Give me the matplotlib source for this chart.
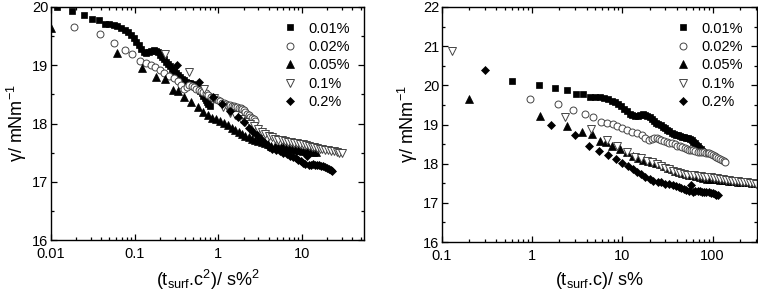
import matplotlib
matplotlib.use("Agg")
import matplotlib.pyplot as plt
from matplotlib.ticker import LogLocator, FuncFormatter, MultipleLocator, NullFormatter
import numpy as np

plt.rcParams['font.family'] = ['Liberation Sans', 'DejaVu Sans']
plt.rcParams['mathtext.fontset'] = 'custom'
plt.rcParams['mathtext.rm'] = 'Liberation Sans'
plt.rcParams['mathtext.it'] = 'Liberation Sans:italic'
plt.rcParams['mathtext.default'] = 'regular'

# Concentrations (%) and legend labels
conc = [0.01, 0.02, 0.05, 0.1, 0.2]
labels = ["0.01%", "0.02%", "0.05%", "0.1%", "0.2%"]

# t_surf*c (s%) and surface tension (mN/m) for each concentration
tc_001 = [0.60, 1.18, 1.80, 2.45, 3.08, 3.70, 4.40, 5.0, 5.6, 6.2, 6.9, 7.6, 8.3, 9.0, 9.7,
          10.4, 11.2, 12.0, 12.9, 13.8, 14.8, 15.8, 16.8, 17.8, 18.9, 20.0, 21.2, 22.5, 23.8,
          25.0, 26.5, 28.0, 29.5, 31.0, 33.0, 35.0, 37.0, 39.0, 41.0, 43.5, 46.0, 48.5, 51.0,
          53.5, 56.0, 58.5, 61.0, 63.5, 66.0, 68.5, 71.0, 73.5, 76.0, 78.5]
g_001 = [20.11, 20.00, 19.93, 19.87, 19.79, 19.77, 19.71, 19.70, 19.69, 19.67, 19.64, 19.60,
         19.57, 19.52, 19.46, 19.40, 19.34, 19.28, 19.23, 19.21, 19.22, 19.25, 19.26, 19.25,
         19.22, 19.18, 19.15, 19.10, 19.05, 19.02, 18.98, 18.93, 18.90, 18.87, 18.83, 18.79,
         18.76, 18.74, 18.72, 18.70, 18.69, 18.67, 18.66, 18.65, 18.63, 18.60, 18.56, 18.52,
         18.48, 18.44, 18.40, 18.37, 18.33, 18.30]

tc_002 = [0.95, 1.95, 2.86, 3.88, 4.7, 5.8, 6.8, 7.8, 8.8, 10.0, 11.3, 12.9, 14.6, 16.3, 18.0,
          19.5, 21.0, 22.5, 24.0, 25.5, 27.0, 29.0, 31.0, 33.0, 35.5, 38.0, 40.5, 43.0, 46.0,
          49.0, 52.0, 55.0, 58.0, 61.0, 64.5, 68.0, 72.0, 76.0, 80.0, 84.0, 88.0, 92.0, 96.0,
          100.0, 105.0, 110.0, 115.0, 120.0, 126.0, 132.0, 138.0]
g_002 = [19.65, 19.53, 19.38, 19.27, 19.19, 19.07, 19.04, 19.01, 18.97, 18.91, 18.86, 18.82,
         18.78, 18.73, 18.66, 18.60, 18.63, 18.66, 18.65, 18.62, 18.60, 18.58, 18.56, 18.54,
         18.52, 18.49, 18.46, 18.44, 18.42, 18.40, 18.38, 18.36, 18.35, 18.34, 18.32, 18.31,
         18.30, 18.30, 18.29, 18.28, 18.27, 18.26, 18.25, 18.23, 18.20, 18.17, 18.15, 18.12,
         18.10, 18.07, 18.05]

tc_005 = [0.20, 1.23, 2.45, 3.6, 4.6, 5.7, 6.6, 7.7, 9.5, 11.3, 13.2, 15.0, 17.0, 19.0, 21.0,
          23.5, 26.0, 29.0, 32.0, 35.0, 38.5, 42.0, 46.0, 50.0, 55.0, 60.0, 66.0, 72.0, 79.0,
          86.0, 94.0, 102.0, 111.0, 120.0, 130.0, 140.0, 152.0, 164.0, 177.0, 190.0, 205.0,
          220.0, 236.0, 253.0, 270.0, 290.0]
g_005 = [19.64, 19.21, 18.95, 18.80, 18.76, 18.57, 18.55, 18.45, 18.37, 18.29, 18.20, 18.14,
         18.10, 18.07, 18.04, 18.01, 17.98, 17.93, 17.89, 17.86, 17.82, 17.79, 17.76, 17.74,
         17.72, 17.70, 17.68, 17.66, 17.64, 17.62, 17.61, 17.60, 17.60, 17.59, 17.58, 17.58,
         17.57, 17.56, 17.55, 17.54, 17.53, 17.53, 17.52, 17.52, 17.51, 17.51]

tc_01 = [0.13, 2.3, 4.5, 6.8, 8.8, 11.3, 13.8, 16.0, 18.5, 21.0, 24.0, 27.0, 30.0, 33.0, 36.0,
         40.0, 44.0, 48.0, 52.0, 57.0, 62.0, 68.0, 74.0, 80.0, 87.0, 95.0, 103.0, 112.0, 121.0,
         130.0, 140.0, 150.0, 162.0, 175.0, 190.0, 205.0, 220.0, 240.0, 260.0, 280.0, 300.0]
g_01 = [20.87, 19.19, 18.88, 18.60, 18.44, 18.29, 18.18, 18.14, 18.08, 18.03, 17.99, 17.95,
        17.90, 17.86, 17.82, 17.79, 17.77, 17.74, 17.72, 17.71, 17.70, 17.69, 17.68, 17.67,
        17.66, 17.65, 17.64, 17.63, 17.61, 17.60, 17.59, 17.58, 17.57, 17.56, 17.55, 17.54,
        17.53, 17.52, 17.51, 17.50, 17.49]

tc_02 = [0.30, 1.6, 2.95, 4.3, 5.5, 6.9, 8.5, 10.0, 11.5, 13.0, 14.5, 16.0, 18.0, 20.0, 22.0,
         24.5, 27.0, 30.0, 33.0, 36.0, 39.0, 42.0, 45.0, 48.0, 51.0, 54.0, 57.0, 60.0, 64.0,
         68.0, 72.0, 76.0, 80.0, 85.0, 90.0, 95.0, 100.0, 105.0, 110.0, 115.0]
g_02 = [20.38, 19.00, 18.72, 18.45, 18.33, 18.22, 18.12, 18.02, 17.93, 17.86, 17.80, 17.73,
        17.66, 17.60, 17.57, 17.54, 17.52, 17.49, 17.47, 17.45, 17.43, 17.40, 17.38, 17.35,
        17.32, 17.30, 17.45, 17.28, 17.29, 17.30, 17.29, 17.28, 17.28, 17.27, 17.27, 17.25,
        17.24, 17.22, 17.20, 17.19]

tc_all = [tc_001, tc_002, tc_005, tc_01, tc_02]
g_all = [g_001, g_002, g_005, g_01, g_02]

styles = [
    dict(marker='s', ms=4.2, mfc='black', mec='black', mew=0.5),
    dict(marker='o', ms=5.0, mfc='white', mec='#444444', mew=0.7),
    dict(marker='^', ms=5.2, mfc='black', mec='black', mew=0.5),
    dict(marker='v', ms=5.2, mfc='white', mec='#444444', mew=0.7),
    dict(marker='D', ms=4.2, mfc='black', mec='black', mew=0.5),
]

fig = plt.figure(figsize=(7.58, 2.94), dpi=100)
axL = fig.add_axes([51/758, 1-240/294, 313/758, 233/294])
axR = fig.add_axes([442/758, 1-242/294, 315/758, 235/294])

for c, tc, g, lab, st in zip(conc, tc_all, g_all, labels, styles):
    tc = np.array(tc)
    axL.plot(tc * c, g, ls='none', label=lab, **st)
    axR.plot(tc, g, ls='none', label=lab, **st)

fmt = FuncFormatter(lambda v, p: ('%g' % v))

def style(ax, xlim, ylim, xlabel):
    ax.set_xscale('log')
    ax.set_xlim(*xlim)
    ax.set_ylim(*ylim)
    ax.xaxis.set_major_locator(LogLocator(base=10, numticks=10))
    ax.xaxis.set_minor_locator(LogLocator(base=10, subs=np.arange(2, 10), numticks=20))
    ax.xaxis.set_major_formatter(fmt)
    ax.xaxis.set_minor_formatter(NullFormatter())
    ax.yaxis.set_major_locator(MultipleLocator(1))
    ax.yaxis.set_minor_locator(MultipleLocator(0.5))
    ax.tick_params(which='both', direction='in', top=True, right=True, labelsize=10.5, width=0.9)
    ax.tick_params(axis='y', which='both', pad=2)
    ax.tick_params(axis='x', which='both', pad=5)
    ax.tick_params(which='major', length=4.5)
    ax.tick_params(which='minor', length=2.5)
    for s in ax.spines.values():
        s.set_linewidth(1.0)
    ax.set_xlabel(xlabel, fontsize=13, labelpad=5)
    ax.set_ylabel("γ/ mNm$^{-1}$", fontsize=13, labelpad=2)
    ax.legend(loc='upper right', frameon=False, fontsize=10.5, handletextpad=0.6,
              labelspacing=0.3, borderaxespad=0.6, markerscale=1.0, handlelength=1.2)

style(axL, (0.01, 55), (16, 20), r"(t$_{surf}$.c$^{2}$)/ s%$^{2}$")
style(axR, (0.1, 310), (16, 22), r"(t$_{surf}$.c)/ s%")

fig.savefig("out.png", dpi=100)
